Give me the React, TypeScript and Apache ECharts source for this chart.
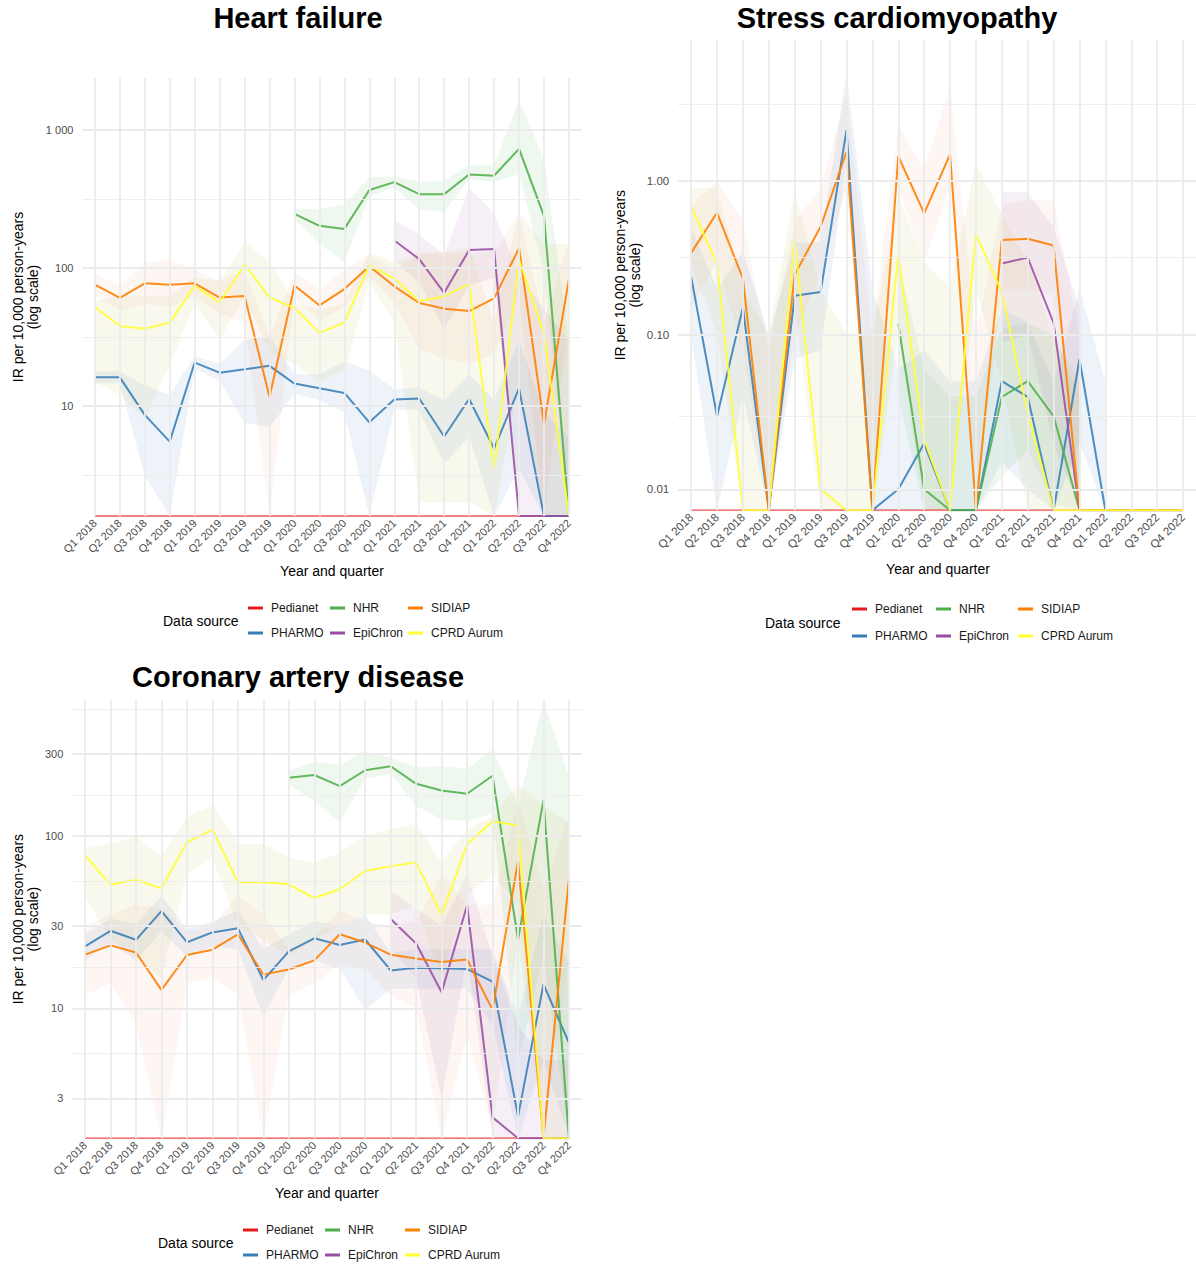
import React, { useEffect, useRef } from 'react';
import * as echarts from 'echarts';

const _ = null;
const FONT = "'Liberation Sans', Arial, Helvetica, sans-serif";

const quarters = [
  'Q1 2018', 'Q2 2018', 'Q3 2018', 'Q4 2018',
  'Q1 2019', 'Q2 2019', 'Q3 2019', 'Q4 2019',
  'Q1 2020', 'Q2 2020', 'Q3 2020', 'Q4 2020',
  'Q1 2021', 'Q2 2021', 'Q3 2021', 'Q4 2021',
  'Q1 2022', 'Q2 2022', 'Q3 2022', 'Q4 2022',
];
const sources = ['Pedianet', 'PHARMO', 'NHR', 'EpiChron', 'SIDIAP', 'CPRD Aurum'];
const sourceColors = ['#E41A1C', '#377EB8', '#4DAF4A', '#984EA3', '#FF7F00', '#FFFF33'];
const bandColors = ['#E41A1C', '#377EB8', '#4DAF4A', '#984EA3', '#E8805A', '#C8BE5A'];
const bandAlpha = [0.08, 0.09, 0.09, 0.09, 0.07, 0.11];
const lineOpacity = [0.55, 0.88, 0.88, 0.88, 0.9, 0.9];

// ---------- Heart failure (IR per 10,000 person-years; 0 = no events) ----------
const hfPedianet = [0, 0, 0, 0, 0, 0, 0, 0, 0, 0, 0, 0, 0, 0, 0, 0, 0, 0, 0, 0];
const hfPharmo = [16.1, 16.1, 8.6, 5.5, 20.6, 17.4, 18.4, 19.5, 14.5, 13.4, 12.4, 7.6, 11.1, 11.3, 6.0, 11.2, 4.9, 13.4, 0, 0];
const hfPharmoLo = [14.6, 14.6, 3.1, 0, 18.5, 15.2, 7.5, 7.0, 12.3, 11.0, 9.0, 0, 9.4, 9.3, 3.8, 6.0, 0, 3.5, 0, 0];
const hfPharmoHi = [17.8, 17.8, 14.0, 12.0, 23.0, 20.0, 30.0, 32.0, 17.0, 17.0, 21.0, 18.0, 13.2, 13.6, 11.0, 17.0, 11.0, 30.0, 9.0, 6.0];
const hfNhr = [_, _, _, _, _, _, _, _, 247, 202, 192, 368, 419, 343, 343, 476, 466, 731, 239, 0];
const hfNhrLo = [_, _, _, _, _, _, _, _, 225, 150, 110, 330, 385, 265, 255, 440, 420, 480, 90, 0];
const hfNhrHi = [_, _, _, _, _, _, _, _, 270, 265, 290, 455, 460, 420, 425, 560, 560, 1650, 620, 30];
const hfEpichron = [_, _, _, _, _, _, _, _, _, _, _, _, 158, 116, 66, 135, 137, 0, 0, 0];
const hfEpichronLo = [_, _, _, _, _, _, _, _, _, _, _, _, 112, 78, 36, 75, 85, 0, 0, 0];
const hfEpichronHi = [_, _, _, _, _, _, _, _, _, _, _, _, 225, 175, 125, 380, 250, 90, 50, 30];
const hfSidiap = [75.7, 60.6, 77.4, 75.7, 77.4, 61, 62.7, 11.6, 74.5, 53.6, 70.3, 103, 73.6, 55.7, 50.7, 48.7, 60.2, 139, 7.4, 82.5];
const hfSidiapLo = [63, 49, 55, 52, 62, 47, 40, 0, 61, 42, 52, 86, 56, 26, 22, 20, 24, 60, 0, 40];
const hfSidiapHi = [91, 75, 108, 115, 97, 80, 96, 32, 92, 70, 96, 124, 96, 125, 128, 128, 132, 250, 40, 160];
const hfCprd = [52.1, 37.9, 36.3, 40.1, 74.5, 56.1, 106, 61, 51.3, 33.8, 40.1, 105, 83.8, 57.3, 62.2, 76.6, 3.4, 115, 33.4, 0];
const hfCprdLo = [15, 12, 8, 20, 55, 30, 62, 25, 20, 15, 18, 80, 40, 2, 2, 2, 0, 15, 0, 0];
const hfCprdHi = [58, 62, 62, 62, 86, 80, 155, 110, 56, 50, 56, 130, 110, 130, 130, 140, 40, 250, 150, 150];
const hfTicks = [10, 100, 1000];
const hfTickLabels = ['10', '100', '1 000'];
const hfMinorTicks = [3.162, 31.62, 316.2];

// ---------- Stress cardiomyopathy ----------
const scPedianet = [0, 0, 0, 0, 0, 0, 0, 0, 0, 0, 0, 0, 0, 0, 0, 0, 0, 0, 0, 0];
const scPharmo = [0.239, 0.0298, 0.151, 0, 0.18, 0.191, 2.14, 0, 0.01, 0.0198, 0, 0, 0.0503, 0.0398, 0, 0.0698, 0, 0, 0, 0];
const scPharmoLo = [0.1, 0, 0.04, 0, 0.07, 0.08, 1.3, 0, 0, 0, 0, 0, 0.015, 0.01, 0, 0.02, 0, _, _, _];
const scPharmoHi = [0.5, 0.2, 0.35, 0.1, 0.4, 0.4, 5.0, 0.2, 0.06, 0.08, 0.05, 0.05, 0.15, 0.12, 0.05, 0.2, 0.05, _, _, _];
const scNhr = [_, _, _, _, _, _, _, _, 0.119, 0.01, 0, 0, 0.0398, 0.0503, 0.0298, 0, 0, 0, 0, 0];
const scNhrLo = [_, _, _, _, _, _, _, _, 0.04, 0, 0, 0, 0.012, 0.018, 0.008, 0, _, _, _, _];
const scNhrHi = [_, _, _, _, _, _, _, _, 0.3, 0.06, 0.04, 0.04, 0.11, 0.12, 0.1, 0.04, _, _, _, _];
const scEpichron = [_, _, _, _, _, _, _, _, _, _, _, _, 0.292, 0.319, 0.12, 0, 0, 0, 0, 0];
const scEpichronLo = [_, _, _, _, _, _, _, _, _, _, _, _, 0.09, 0.1, 0.02, 0, _, _, _, _];
const scEpichronHi = [_, _, _, _, _, _, _, _, _, _, _, _, 0.85, 0.85, 0.5, 0.15, _, _, _, _];
const scSidiap = [0.342, 0.623, 0.233, 0, 0.248, 0.505, 1.55, 0, 1.45, 0.617, 1.49, 0, 0.414, 0.422, 0.382, 0, 0, 0, 0, 0];
const scSidiapLo = [0.15, 0.3, 0.08, 0, 0.1, 0.25, 0.9, 0, 0.9, 0.3, 0.9, 0, 0.2, 0.2, 0.18, 0, _, _, _, _];
const scSidiapHi = [0.7, 1.0, 0.55, 0.08, 0.55, 0.9, 3.7, 0.1, 2.3, 1.2, 4.1, 0.1, 0.7, 0.75, 0.75, 0.1, _, _, _, _];
const scCprd = [0.681, 0.292, 0, 0, 0.414, 0.01, 0, 0, 0.331, 0.021, 0, 0.453, 0.191, 0.031, 0, 0, 0, 0, 0, 0];
const scCprdLo = [0.3, 0.1, 0, 0, 0.15, 0, 0, 0, 0.1, 0, 0, 0.2, 0.05, 0, 0, 0, _, _, _, _];
const scCprdHi = [0.9, 0.9, 0.2, 0.1, 0.85, 0.2, 0.1, 0.1, 0.8, 0.3, 0.2, 1.3, 0.6, 0.3, 0.1, 0.05, _, _, _, _];
const scTicks = [0.01, 0.1, 1];
const scTickLabels = ['0.01', '0.10', '1.00'];
const scMinorTicks = [0.03162, 0.3162, 3.162];

// ---------- Coronary artery disease ----------
const cadPedianet = [0, 0, 0, 0, 0, 0, 0, 0, 0, 0, 0, 0, 0, 0, 0, 0, 0, 0, 0, 0];
const cadPharmo = [22.9, 28.2, 25, 36.7, 24.2, 27.6, 29.2, 14.6, 21.4, 25.5, 23.3, 25.1, 16.6, 17.2, 17.1, 16.9, 14.3, 2.36, 13.8, 6.3];
const cadPharmoLo = [19, 24, 19, 28, 20, 23, 22, 9, 17, 19, 17, 9.8, 13, 13, 13, 13, 8, 0, 5, 1.8];
const cadPharmoHi = [27, 33, 31, 45, 29, 32, 37, 22, 27, 32, 30, 35, 21, 22, 22, 22, 22, 9, 35, 18];
const cadNhr = [_, _, _, _, _, _, _, _, 218, 226, 195, 241, 254, 201, 184, 176, 224, 25.1, 161, 0];
const cadNhrLo = [_, _, _, _, _, _, _, _, 200, 160, 120, 215, 230, 150, 125, 122, 135, 5, 20, 0];
const cadNhrHi = [_, _, _, _, _, _, _, _, 240, 270, 260, 310, 285, 250, 255, 245, 320, 150, 700, 220];
const cadEpichron = [_, _, _, _, _, _, _, _, _, _, _, _, 33, 23.8, 12.4, 39.6, 2.33, 0, 0, 0];
const cadEpichronLo = [_, _, _, _, _, _, _, _, _, _, _, _, 22, 15, 3, 20, 0, 0, 0, 0];
const cadEpichronHi = [_, _, _, _, _, _, _, _, _, _, _, _, 48, 38, 30, 60, 20, 8, 5, 5];
const cadSidiap = [20.5, 23.2, 21.1, 12.8, 20.4, 21.9, 26.9, 15.7, 16.8, 19, 26.9, 24.1, 20.5, 19.5, 18.6, 19.2, 9.8, 71.7, 0, 56.6];
const cadSidiapLo = [12, 14, 8, 0, 14, 15, 12, 0, 12, 14, 18, 17, 12, 10, 0, 7, 2, 25, 0, 20];
const cadSidiapHi = [30, 35, 40, 38, 28, 30, 45, 35, 22, 26, 37, 32, 30, 32, 60, 40, 40, 160, 50, 130];
const cadCprd = [77.3, 52.2, 55.8, 49.7, 91.9, 109, 53.9, 53.9, 52.5, 43.7, 49.1, 62.7, 66.7, 70.4, 34.8, 89.6, 122, 115, 0, 0];
const cadCprdLo = [45, 25, 20, 15, 60, 75, 30, 25, 20, 25, 30, 35, 35, 40, 15, 45, 60, 40, 0, 0];
const cadCprdHi = [85, 90, 100, 75, 130, 150, 90, 90, 75, 70, 80, 100, 110, 118, 70, 110, 130, 200, 150, 120];
const cadTicks = [3, 10, 30, 100, 300];
const cadTickLabels = ['3', '10', '30', '100', '300'];
const cadMinorTicks = [5.477, 17.32, 54.77, 173.2, 547.7];

type Arr = (number | null)[];
type Panel = {
  title: string;
  values: Arr[];
  lo: (Arr | null)[];
  hi: (Arr | null)[];
  ticks: number[];
  tickLabels: string[];
  minor: number[];
  yMin: number;
  yMax: number;
  grid: { left: number; top: number; width: number; height: number };
  labelDist: number;
  axisFont: number;
  titleX: number;
  titleY: number;
  yTitleX: number;
  xTitleX: number;
  xTitleY: number;
  legendTitleX: number;
  legendTitleY: number;
  legendCols: number[];
  legendRow1: number;
  legendRowGap: number;
};

const panels: Panel[] = [
  {
    title: 'Heart failure',
    values: [hfPedianet, hfPharmo, hfNhr, hfEpichron, hfSidiap, hfCprd],
    lo: [null, hfPharmoLo, hfNhrLo, hfEpichronLo, hfSidiapLo, hfCprdLo],
    hi: [null, hfPharmoHi, hfNhrHi, hfEpichronHi, hfSidiapHi, hfCprdHi],
    ticks: hfTicks, tickLabels: hfTickLabels, minor: hfMinorTicks,
    yMin: 1.589, yMax: 2386,
    grid: { left: 82.4, top: 78, width: 499, height: 438 },
    labelDist: 9, axisFont: 11,
    titleX: 298, titleY: 18, yTitleX: 25.5, xTitleX: 332, xTitleY: 571,
    legendTitleX: 163, legendTitleY: 621, legendCols: [248, 330, 408], legendRow1: 608, legendRowGap: 25,
  },
  {
    title: 'Stress cardiomyopathy',
    values: [scPedianet, scPharmo, scNhr, scEpichron, scSidiap, scCprd],
    lo: [null, scPharmoLo, scNhrLo, scEpichronLo, scSidiapLo, scCprdLo],
    hi: [null, scPharmoHi, scNhrHi, scEpichronHi, scSidiapHi, scCprdHi],
    ticks: scTicks, tickLabels: scTickLabels, minor: scMinorTicks,
    yMin: 0.00731, yMax: 8.23,
    grid: { left: 678.2, top: 40, width: 520, height: 470.3 },
    labelDist: 9, axisFont: 11.5,
    titleX: 897, titleY: 18, yTitleX: 627.5, xTitleX: 938, xTitleY: 569,
    legendTitleX: 765, legendTitleY: 623, legendCols: [852, 936, 1018], legendRow1: 609, legendRowGap: 27,
  },
  {
    title: 'Coronary artery disease',
    values: [cadPedianet, cadPharmo, cadNhr, cadEpichron, cadSidiap, cadCprd],
    lo: [null, cadPharmoLo, cadNhrLo, cadEpichronLo, cadSidiapLo, cadCprdLo],
    hi: [null, cadPharmoHi, cadNhrHi, cadEpichronHi, cadSidiapHi, cadCprdHi],
    ticks: cadTicks, tickLabels: cadTickLabels, minor: cadMinorTicks,
    yMin: 1.762, yMax: 616,
    grid: { left: 72.3, top: 700, width: 509.4, height: 438.3 },
    labelDist: 9, axisFont: 11,
    titleX: 298, titleY: 677, yTitleX: 25.5, xTitleX: 327, xTitleY: 1193,
    legendTitleX: 158, legendTitleY: 1243, legendCols: [243, 325, 405], legendRow1: 1230, legendRowGap: 25,
  },
];

function rgba(hex: string, a: number) {
  const n = parseInt(hex.slice(1), 16);
  return `rgba(${(n >> 16) & 255},${(n >> 8) & 255},${n & 255},${a})`;
}

function buildOption() {
  const series: any[] = [];
  const legends: any[] = [];
  const graphics: any[] = [];

  panels.forEach((p, k) => {
    const clamp = (v: number) => (v <= p.yMin ? p.yMin : v >= p.yMax ? p.yMax : v);

    // grid lines + y tick labels through the axes
    series.push({
      type: 'line',
      name: 'grid-' + k,
      xAxisIndex: k,
      yAxisIndex: k,
      data: quarters.map(() => null),
      silent: true,
      z: 1,
      markLine: {
        silent: true,
        animation: false,
        symbol: ['none', 'none'],
        data: [
          ...p.minor.map((v) => ({
            yAxis: v,
            lineStyle: { color: '#ececec', width: 0.9, type: 'solid' },
            label: { show: false },
          })),
          ...quarters.map((q) => ({
            xAxis: q,
            lineStyle: { color: '#ebebeb', width: 1.8, type: 'solid' },
            label: { show: false },
          })),
          ...p.ticks.map((v, j) => ({
            yAxis: v,
            lineStyle: { color: '#ebebeb', width: 1.8, type: 'solid' },
            label: {
              show: true,
              position: 'start',
              formatter: p.tickLabels[j],
              color: '#4d4d4d',
              fontSize: p.axisFont,
              fontFamily: FONT,
              distance: p.labelDist,
            },
          })),
        ],
      },
    });

    // lines
    sources.forEach((src, si) => {
      const vals = p.values[si];
      series.push({
        type: 'line',
        name: src,
        xAxisIndex: k,
        yAxisIndex: k,
        data: vals.map((v) => (v === null ? null : v <= 0 ? p.yMin : v)),
        showSymbol: false,
        symbol: 'none',
        connectNulls: false,
        color: sourceColors[si],
        itemStyle: { color: sourceColors[si] },
        lineStyle: { width: 2, color: sourceColors[si], opacity: lineOpacity[si] },
        z: 4,
        silent: true,
      });
    });

    // confidence ribbons
    sources.forEach((src, si) => {
      const lo = p.lo[si];
      const hi = p.hi[si];
      if (!lo || !hi) return;
      const fill = rgba(bandColors[si], bandAlpha[si]);
      series.push({
        type: 'custom',
        name: 'band-' + src,
        xAxisIndex: k,
        yAxisIndex: k,
        silent: true,
        z: 2,
        data: [[0, p.yMin]],
        renderItem: (_params: any, api: any) => {
          const children: any[] = [];
          let seg: number[] = [];
          const flush = () => {
            if (seg.length > 1) {
              const top = seg.map((i) => api.coord([i, clamp(hi[i] as number)]));
              const bot = seg
                .slice()
                .reverse()
                .map((i) => api.coord([i, clamp(lo[i] as number)]));
              children.push({
                type: 'polygon',
                shape: { points: top.concat(bot) },
                style: { fill, stroke: 'none' },
                silent: true,
              });
            }
            seg = [];
          };
          for (let i = 0; i < quarters.length; i++) {
            if (lo[i] === null || hi[i] === null) flush();
            else seg.push(i);
          }
          flush();
          return { type: 'group', children };
        },
      });
    });

    // legends: 3 columns x 2 rows
    for (let c = 0; c < 3; c++) {
      legends.push({
        data: [sources[2 * c], sources[2 * c + 1]],
        orient: 'vertical',
        left: p.legendCols[c],
        top: p.legendRow1 - 7,
        padding: 0,
        itemWidth: 15,
        itemHeight: 3,
        icon: 'rect',
        itemGap: p.legendRowGap - 14,
        selectedMode: false,
        textStyle: { fontSize: 12, color: '#1a1a1a', fontFamily: FONT, lineHeight: 14, padding: [0, 0, 0, 3] },
      });
    }

    const cy = p.grid.top + p.grid.height / 2;
    graphics.push(
      {
        type: 'text',
        x: p.titleX,
        y: p.titleY,
        style: {
          text: p.title,
          font: `bold 29px ${FONT}`,
          fill: '#000',
          textAlign: 'center',
          textVerticalAlign: 'middle',
          align: 'center',
          verticalAlign: 'middle',
        },
      },
      {
        type: 'text',
        x: p.yTitleX,
        y: cy,
        rotation: Math.PI / 2,
        style: {
          text: 'IR per 10,000 person-years\n(log scale)',
          font: `14px ${FONT}`,
          lineHeight: 15,
          fill: '#000',
          textAlign: 'center',
          textVerticalAlign: 'middle',
          align: 'center',
          verticalAlign: 'middle',
        },
      },
      {
        type: 'text',
        x: p.xTitleX,
        y: p.xTitleY,
        style: {
          text: 'Year and quarter',
          font: `14px ${FONT}`,
          fill: '#000',
          textAlign: 'center',
          textVerticalAlign: 'middle',
          align: 'center',
          verticalAlign: 'middle',
        },
      },
      {
        type: 'text',
        x: p.legendTitleX,
        y: p.legendTitleY,
        style: {
          text: 'Data source',
          font: `14px ${FONT}`,
          fill: '#000',
          textAlign: 'left',
          textVerticalAlign: 'middle',
          align: 'left',
          verticalAlign: 'middle',
        },
      }
    );
  });

  return {
    animation: false,
    backgroundColor: '#ffffff',
    textStyle: { fontFamily: FONT },
    grid: panels.map((p) => ({ ...p.grid, containLabel: false })),
    xAxis: panels.map((p, k) => ({
      type: 'category',
      gridIndex: k,
      data: quarters,
      boundaryGap: true,
      axisLine: { show: false },
      axisTick: { show: false },
      splitLine: { show: false },
      axisLabel: {
        rotate: 45,
        interval: 0,
        margin: 5,
        fontSize: p.axisFont,
        color: '#4d4d4d',
        fontFamily: FONT,
      },
    })),
    yAxis: panels.map((p, k) => ({
      type: 'log',
      logBase: 10,
      gridIndex: k,
      min: p.yMin,
      max: p.yMax,
      axisLine: { show: false },
      axisTick: { show: false },
      splitLine: { show: false },
      minorSplitLine: { show: false },
      axisLabel: { show: false },
    })),
    legend: legends,
    series,
    graphic: graphics,
  };
}

export default function App() {
  const ref = useRef<HTMLDivElement>(null);
  useEffect(() => {
    if (!ref.current) return;
    const chart = echarts.init(ref.current, null, { renderer: 'svg' });
    chart.setOption(buildOption() as any);
    return () => {
      chart.dispose();
    };
  }, []);
  return (
    <div
      ref={ref}
      style={{ position: 'absolute', left: 0, top: 0, width: 1196, height: 1264, background: '#fff' }}
    />
  );
}
